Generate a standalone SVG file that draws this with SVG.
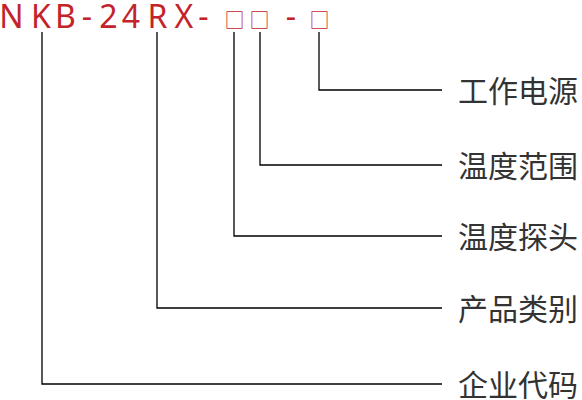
<svg xmlns="http://www.w3.org/2000/svg" width="582" height="400" viewBox="0 0 582 400">
<style>
.code{font-family:"Noto Sans","Noto Sans CJK SC",sans-serif;font-size:32px;fill:#c3242b;text-anchor:middle}
.sq{font-family:"Noto Sans CJK SC",sans-serif;font-size:20px;fill:#c3242b;text-anchor:middle}
.lbl{font-family:"Noto Sans CJK SC",sans-serif;font-size:30px;fill:#333}
.ln{fill:none;stroke:#000;stroke-width:1.3}
</style>
<rect width="582" height="400" fill="#fff"/>
<g id="code">
<text class="code" x="11.5 41 65.5 87 108.5 131 157.5 184 203.5" y="28">NKB-24RX-</text>
<text class="sq" x="234.5 259.5" y="28">□□</text>
<text class="code" x="291" y="28">-</text>
<text class="sq" x="319.5" y="28">□</text>
</g>
<g id="connectors">
<path class="ln" d="M319 32V90H442"/>
<path class="ln" d="M260 32V165H442"/>
<path class="ln" d="M234 32V236H442"/>
<path class="ln" d="M157 32V308H442"/>
<path class="ln" d="M42 32V384H442"/>
</g>
<g id="n1"><text class="lbl" x="458" y="102">工作电源</text></g>
<g id="n2"><text class="lbl" x="458" y="177">温度范围</text></g>
<g id="n3"><text class="lbl" x="458" y="248">温度探头</text></g>
<g id="n4"><text class="lbl" x="458" y="320">产品类别</text></g>
<g id="n5"><text class="lbl" x="458" y="396">企业代码</text></g>
</svg>
